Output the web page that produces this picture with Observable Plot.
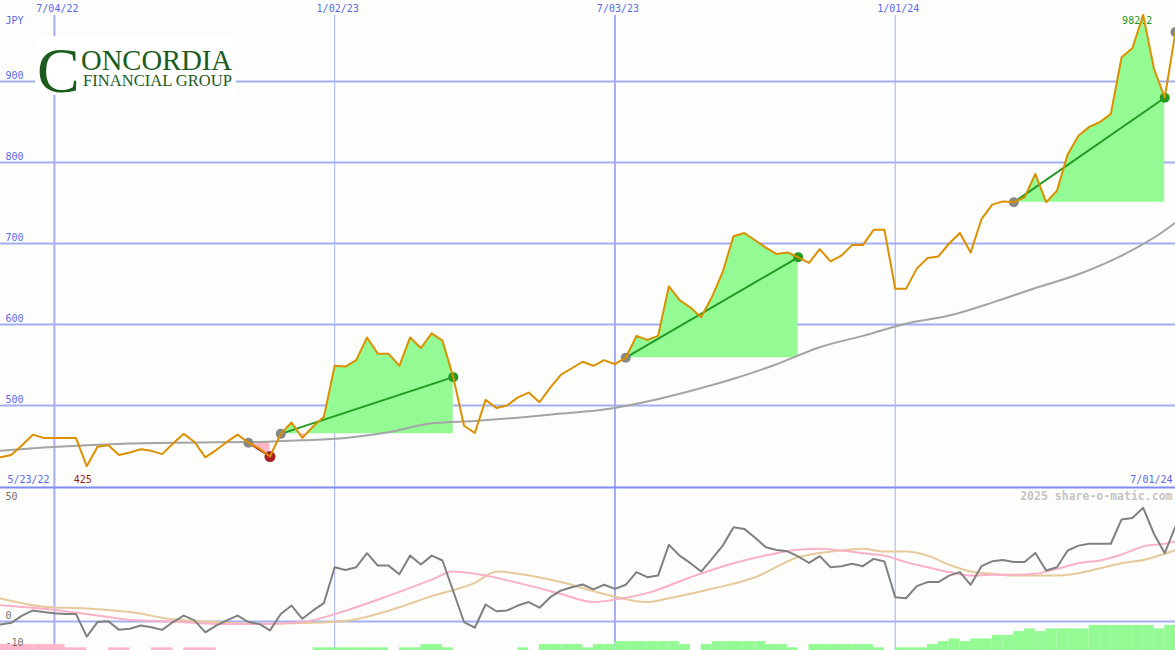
<!DOCTYPE html>
<html><head><meta charset="utf-8">
<script src="https://cdn.jsdelivr.net/npm/d3@7"></script>
<script src="https://cdn.jsdelivr.net/npm/@observablehq/plot@0.6"></script>
<style>
html,body{margin:0;padding:0;background:#fdfefc;}
#wrap{position:relative;width:1175px;height:650px;overflow:hidden;background:#fdfefc;}
#wrap > svg{display:block;}
#logo{position:absolute;left:0;top:0;overflow:visible;}
</style></head>
<body>
<div id="wrap">
<svg id="logo" width="260" height="110">
  <rect x="35" y="36" width="201" height="59" fill="#ffffff"/>
  <text x="37" y="92" font-family="Liberation Serif" font-size="64" fill="#1c5c1c">C</text>
  <text x="81" y="70" font-family="Liberation Serif" font-size="29" fill="#1c5c1c" textLength="151" lengthAdjust="spacingAndGlyphs">ONCORDIA</text>
  <text x="83" y="86" font-family="Liberation Serif" font-size="16.5" fill="#1c5c1c" textLength="149" lengthAdjust="spacingAndGlyphs">FINANCIAL GROUP</text>
</svg>
</div>
<script>
// ---------- data ----------
const startDate = "2022-05-30";
const endDate = "2024-07-01";

const prices = [
  436, 439, 451, 464, 460, 460, 460, 460, 425, 449,
  451, 439, 442, 446, 444, 440, 453, 465, 455, 436,
  445, 455, 464, 454, 447, 437, 465, 479, 460, 474,
  486, 549, 548, 556, 584, 564, 564, 549, 584, 571,
  589, 580, 535, 475, 466, 507, 497, 500, 510, 516,
  504, 522, 538, 546, 554, 549, 556, 551, 559, 586,
  581, 586, 647, 630, 621, 609, 634, 665, 709, 713,
  704, 695, 687, 689, 683, 676, 693, 678, 685, 698,
  698, 717, 717, 644, 644, 669, 682, 684, 700, 713,
  689, 730, 748, 752, 751, 757, 786, 751, 765, 810,
  833, 844, 850, 860, 930, 941, 982.2, 916, 880, 961
];

// long moving average (read at sampled weeks)
const maWeeks = [0,4,8,12,16,20,24,28,32,36,40,44,48,52,56,60,64,68,72,76,80,84,88,92,96,100,104,108,109];
const maValues = [444,448,451,453,454,454.5,455,457,460,467,478,481,485,490,495,505,518,533,551,572,586,601,611,627,645,662,685,716,726];

// trades (week index of entry / exit)
const tradeEntry = [23, 26, 58, 94];
const tradeExit  = [25, 42, 74, 108];
const openEntry  = [109];

// lower panel oscillator
const osc = [
  -1.1, -0.5, 2.2, 4.1, 3.5, 3.1, 2.8, 2.8, -5.6, -0.2,
  0.1, -3.1, -2.7, -1.5, -2.1, -3.1, -0.2, 2.2, 0.4, -4,
  -1.5, 0.4, 2.2, -0.2, -0.9, -3.3, 2.8, 5.9, 1, 4.1,
  6.8, 20.1, 19.1, 20.1, 25.3, 20.7, 20.7, 17.5, 24.4, 21.1,
  24.4, 22.6, 11.2, -0.2, -2.3, 6.3, 3.8, 4.1, 5.9, 7.2,
  5.1, 9, 11.5, 12.7, 13.7, 11.9, 13.6, 12.1, 13.6, 18.3,
  16.4, 17, 28.4, 24.4, 21.6, 18.5, 23.2, 28.1, 34.9, 34.3,
  31, 27.5, 26.5, 26, 24.1, 21.7, 24.2, 20.1, 20.5, 21.4,
  20.5, 23.2, 22.2, 9, 8.6, 13.1, 14.6, 14.6, 17, 18.3,
  13.6, 20.5, 22.3, 22.8, 22, 22, 25.4, 18.9, 20.1, 26.3,
  28.1, 28.8, 28.8, 28.8, 37.8, 38.3, 42.1, 32.5, 25.3, 35.2
];
const pinkWeeks = [0,4,8,12,16,20,24,28,32,36,40,42,44,48,52,55,58,60,64,68,72,74,76,78,80,82,84,86,88,90,92,94,96,98,100,102,104,106,108,109];
const pinkValues = [6,4.7,2.8,0.6,0,-0.9,-0.9,-0.2,4,9.5,15.5,18.5,17.7,14.3,10.2,7.2,8.8,10.5,16.4,21.6,25.3,26.6,26.9,26.3,25.3,24.4,22,20.1,18.3,17,17.3,17.3,17.7,19.5,21.6,22.6,24.8,27.8,28.8,29.7];
const tanWeeks = [0,4,8,12,16,20,24,28,32,36,40,44,46,48,52,56,60,62,66,70,74,76,78,80,82,84,86,88,90,92,94,96,98,100,102,104,106,108,109];
const tanValues = [8.5,5.5,4.8,3.5,0.8,-0.2,-0.9,-0.6,0.2,4,9.4,14.3,18.5,17.7,14.6,10.2,7.2,8.6,12.1,16.4,23.8,25.4,26.3,26.9,25.9,25.9,24.4,21,18.5,17.7,17,17,17,17.9,19.7,21.6,22.8,25.1,26.5];

// weekly strength bars (negative = pink, positive = green)
const bars = [
  -2.2,-2.2,-2.2,-2.2,-2.2,-2.2,-1,-1,0,0,
  -1,-1,0,0,-1,-1,0,-1,-1,-1,
  0,0,0,0,0,0,0,0,0,1,
  1,1,1,1,1,1,0,1,1,2.2,
  2.2,1,0,0,0,0,0,0,1,0,
  2.2,2.2,2.2,2.2,1,2.2,2.2,3.3,3.3,3.3,
  3.3,3.3,3.3,2.2,0,2.2,3.3,3.3,3.3,3.3,
  3.3,2.2,2.2,1,0,2.2,2.2,2.2,2.2,2.2,
  2.2,1,0,1,1,1,2.2,3.3,4.3,3.3,
  4.3,4.3,5.6,5.6,7,8,7,8,8,8,
  8,9.3,9.3,9.3,9.3,9.3,9.3,8,9.3,9.3
];

// tick labels
const priceTicks = [500, 600, 700, 800, 900];
const dateTicks = ["2022-07-04", "2023-01-02", "2023-07-03", "2024-01-01"];
const dateTickLabels = ["7/04/22", "1/02/23", "7/03/23", "1/01/24"];
const dateTickMajor = [true, false, true, false];
const oscTicksTop = [50];
const oscTicksLow = [0, -10];

// ---------- derived ----------
const t0 = new Date(startDate), t1 = new Date(endDate);
const dates = prices.map((_, i) => d3.utcDay.offset(t0, 7 * i));
const ticks = dateTicks.map((d, i) => ({date: new Date(d), label: dateTickLabels[i], major: dateTickMajor[i]}));
const priceRows = prices.map((p, i) => ({date: dates[i], price: p}));
const maRows = maWeeks.map((w, i) => ({date: dates[w], v: maValues[i]}));

function tradeRows(s, e, t) {
  const b = prices[s], rows = [];
  for (let i = s; i <= e; i++) {
    rows.push({trade: t, date: dates[i], base: b, price: prices[i]});
    if (i < e) {
      const p0 = prices[i], p1 = prices[i + 1];
      if ((p0 - b) * (p1 - b) < 0) {
        const f = (b - p0) / (p1 - p0);
        rows.push({trade: t, date: new Date(+dates[i] + f * (dates[i + 1] - dates[i])), base: b, price: b});
      }
    }
  }
  return rows;
}
const areaRows = tradeEntry.flatMap((s, t) => tradeRows(s, tradeExit[t], t));
const trades = tradeEntry.map((s, t) => {
  const e = tradeExit[t];
  return {x1: dates[s], y1: prices[s], x2: dates[e], y2: prices[e], win: prices[e] > prices[s]};
});
const entryDots = tradeEntry.concat(openEntry).map(i => ({date: dates[i], price: prices[i]}));
const exitDots = trades.map(d => ({date: d.x2, price: d.y2, win: d.win}));

const minIdx = d3.minIndex(prices), maxIdx = d3.maxIndex(prices);

const grid = "#a3adf2";
const labelBlue = "#5a69e8";
const font = {fontFamily: "DejaVu Sans Mono", fontSize: "10px", background: "#fdfefc"};

// ---------- top panel ----------
const topPlot = Plot.plot({
  width: 1175, height: 486, margin: 0,
  style: font,
  x: {type: "utc", domain: [t0, t1], axis: null},
  y: {domain: [400, 1000], axis: null},
  marks: [
    Plot.ruleY(priceTicks, {stroke: grid, strokeWidth: 2}),
    Plot.ruleX(ticks.filter(d => d.major), {x: "date", stroke: grid, strokeWidth: 2, insetTop: 15}),
    Plot.ruleX(ticks.filter(d => !d.major), {x: "date", stroke: grid, strokeWidth: 1, insetTop: 15}),
    Plot.areaY(areaRows, {x: "date", y1: "base", y2: d => Math.max(d.price, d.base), z: "trade", fill: "#94fa94"}),
    Plot.areaY(areaRows, {x: "date", y1: "base", y2: d => Math.min(d.price, d.base), z: "trade", fill: "#ffb6c8"}),
    Plot.line(maRows, {x: "date", y: "v", stroke: "#a4a4a4", strokeWidth: 2, curve: "monotone-x"}),
    Plot.link(trades.filter(d => d.win), {x1: "x1", y1: "y1", x2: "x2", y2: "y2", stroke: "#229a22", strokeWidth: 2}),
    Plot.link(trades.filter(d => !d.win), {x1: "x1", y1: "y1", x2: "x2", y2: "y2", stroke: "#a82020", strokeWidth: 2}),
    Plot.dot(entryDots, {x: "date", y: "price", r: 5, fill: "#878787"}),
    Plot.dot(exitDots.filter(d => d.win), {x: "date", y: "price", r: 5, fill: "#229a22"}),
    Plot.dot(exitDots.filter(d => !d.win), {x: "date", y: "price", r: 5.5, fill: "#a82020"}),
    Plot.text([maxIdx], {x: i => dates[i], y: i => prices[i], text: i => String(prices[i]), dx: -6, dy: 6, lineAnchor: "middle", fill: "#1c961c"}),
    Plot.line(priceRows, {x: "date", y: "price", stroke: "#dc9000", strokeWidth: 2}),
    Plot.text(priceTicks, {x: t0, y: d => d, text: d => String(d), textAnchor: "start", dx: 5, dy: -6, lineAnchor: "middle", fill: labelBlue}),
    Plot.text(ticks, {x: "date", text: "label", frameAnchor: "top", dy: 8, dx: 3, lineAnchor: "middle", fill: labelBlue}),
    Plot.text(["JPY"], {frameAnchor: "top-left", dx: 5, dy: 20, lineAnchor: "middle", textAnchor: "start", fill: labelBlue}),
    Plot.text([dates[0]], {frameAnchor: "bottom-left", dx: 7, dy: -7, lineAnchor: "middle", textAnchor: "start", text: () => "5/23/22", fill: labelBlue}),
    Plot.text(["7/01/24"], {frameAnchor: "bottom-right", dx: -3, dy: -7, lineAnchor: "middle", textAnchor: "end", fill: labelBlue}),
    Plot.text([minIdx], {x: i => dates[i], text: i => String(prices[i]), frameAnchor: "bottom", dx: -4, dy: -7, lineAnchor: "middle", fill: "#a01818"})
  ]
});

// ---------- lower panel ----------
const oscRows = osc.map((v, i) => ({date: dates[i], v}));
const pinkRows = pinkWeeks.map((w, i) => ({date: dates[w], v: pinkValues[i]}));
const tanRows = tanWeeks.map((w, i) => ({date: dates[w], v: tanValues[i]}));
const yLow = 50 - 164 / 2.7;
const barRows = bars.map((v, i) => ({x1: dates[i], x2: d3.utcDay.offset(dates[i], 7), v})).filter(d => d.v !== 0);

const lowPlot = Plot.plot({
  width: 1175, height: 164, margin: 0,
  style: font,
  x: {type: "utc", domain: [t0, t1], axis: null},
  y: {domain: [yLow, 50], axis: null},
  marks: [
    Plot.ruleX(ticks.filter(d => d.major), {x: "date", stroke: grid, strokeWidth: 2}),
    Plot.ruleX(ticks.filter(d => !d.major), {x: "date", stroke: grid, strokeWidth: 1}),
    Plot.ruleY([0], {stroke: grid, strokeWidth: 2}),
    Plot.rectY(barRows.filter(d => d.v < 0), {x1: "x1", x2: "x2", y1: yLow, y2: d => yLow - d.v, fill: "#ffb6c8"}),
    Plot.rectY(barRows.filter(d => d.v > 0), {x1: "x1", x2: "x2", y1: yLow, y2: d => yLow + d.v, fill: "#94fa94"}),
    Plot.line(tanRows, {x: "date", y: "v", stroke: "#e6ca9c", strokeWidth: 2, curve: "monotone-x"}),
    Plot.line(pinkRows, {x: "date", y: "v", stroke: "#fab0c6", strokeWidth: 2, curve: "monotone-x"}),
    Plot.line(oscRows, {x: "date", y: "v", stroke: "#808080", strokeWidth: 2}),
    Plot.ruleY([50], {stroke: "#7f8cf0", strokeWidth: 2, dy: 1}),
    Plot.text(oscTicksTop, {x: t0, y: d => d, text: d => String(d), textAnchor: "start", dx: 5, dy: 10, lineAnchor: "middle", fill: "#707070"}),
    Plot.text(oscTicksLow, {x: t0, y: d => d, text: d => String(d), textAnchor: "start", dx: 5, dy: -6, lineAnchor: "middle", fill: "#707070"}),
    Plot.text(["2025 share-o-matic.com"], {frameAnchor: "top-right", dx: -3, dy: 10, lineAnchor: "middle", textAnchor: "end", fill: "#c4c4c4", fontWeight: "bold", fontSize: 11.5})
  ]
});

const wrap = document.getElementById("wrap");
const logo = document.getElementById("logo");
wrap.insertBefore(topPlot, logo);
wrap.insertBefore(lowPlot, logo);
</script>
</body></html>
